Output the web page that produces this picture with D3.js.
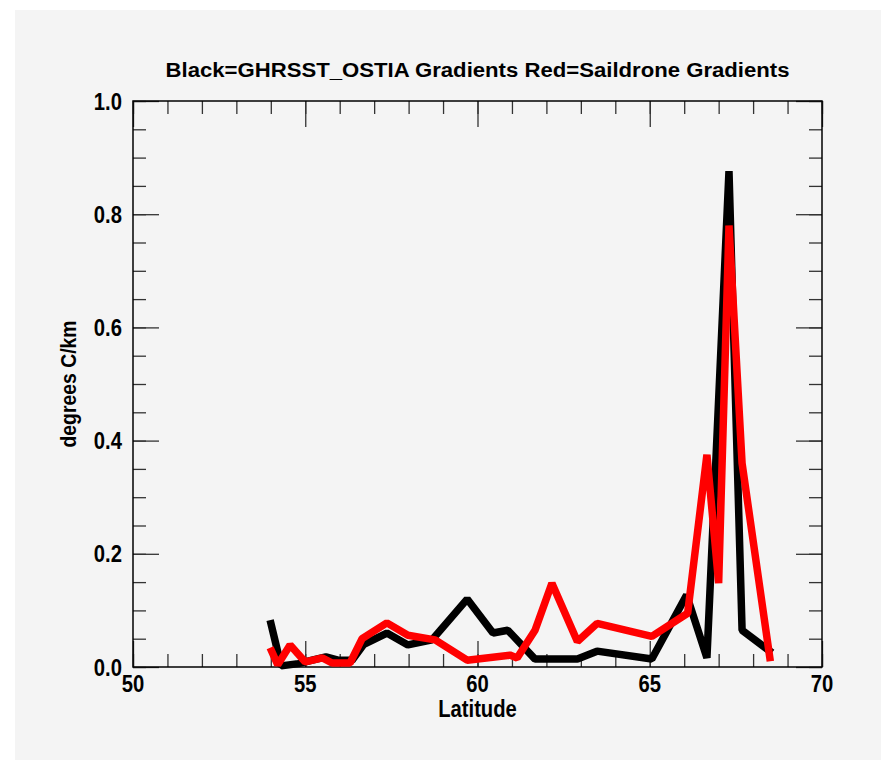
<!DOCTYPE html>
<html><head><meta charset="utf-8">
<script src="https://cdn.jsdelivr.net/npm/d3@7"></script>
<style>
html,body{margin:0;padding:0;background:#fff;}
svg{display:block;}
</style></head>
<body><script>
const titleText = "Black=GHRSST_OSTIA Gradients Red=Saildrone Gradients";
const xLabel = "Latitude";
const yLabel = "degrees C/km";
const xMajorTicks = [50, 55, 60, 65, 70];
const xMinorTicks = d3.range(50, 71, 1);
const yMajorTicks = [0, 0.2, 0.4, 0.6, 0.8, 1.0];
const yMinorTicks = d3.range(0, 1.0001, 0.05);

const blackLat = [53.98, 54.3, 54.8, 55.2, 55.6, 55.95, 56.36, 56.7, 57.37, 57.98, 58.68, 59.7, 60.45, 60.88, 61.67, 62.9, 63.47, 65.06, 66.07, 66.66, 67.3, 67.68, 68.55];
const blackVal = [0.083, 0.002, 0.006, 0.012, 0.018, 0.012, 0.012, 0.04, 0.06, 0.039, 0.048, 0.12, 0.06, 0.065, 0.014, 0.014, 0.028, 0.014, 0.127, 0.016, 0.876, 0.065, 0.025];
const redLat = [53.98, 54.2, 54.56, 55.0, 55.5, 55.78, 56.3, 56.65, 57.37, 57.98, 58.77, 59.7, 60.94, 61.15, 61.67, 62.16, 62.9, 63.47, 65.06, 66.1, 66.66, 67.0, 67.3, 67.68, 68.5];
const redVal = [0.034, 0.004, 0.039, 0.009, 0.016, 0.007, 0.007, 0.05, 0.078, 0.056, 0.048, 0.012, 0.021, 0.016, 0.065, 0.148, 0.045, 0.077, 0.054, 0.095, 0.375, 0.148, 0.78, 0.36, 0.01];

const W = 881, H = 760;
const L = 133, R = 822, T = 101, B = 667;
const font = "'Liberation Sans', Arial, Helvetica, sans-serif";

const svg = d3.select("body").append("svg").attr("width", W).attr("height", H);
svg.append("rect").attr("x", 0).attr("y", 0).attr("width", W).attr("height", H).attr("fill", "#ffffff");
svg.append("rect").attr("x", 15).attr("y", 10).attr("width", W - 15).attr("height", H - 10).attr("fill", "#f4f4f4");

const x = d3.scaleLinear().domain([50, 70]).range([L, R]);
const y = d3.scaleLinear().domain([0, 1]).range([B, T]);

const majLen = 26, minLen = 13, tickCol = "#333";

function axis(gen, tx, ty, ticks, len) {
  const g = svg.append("g").attr("transform", `translate(${tx},${ty})`)
    .call(gen.tickValues(ticks).tickSize(len).tickSizeOuter(0).tickFormat(""));
  g.select(".domain").remove();
  g.selectAll(".tick line").attr("stroke", tickCol).attr("stroke-width", 1.3);
  return g;
}
axis(d3.axisTop(x), 0, B, xMinorTicks, minLen);
axis(d3.axisTop(x), 0, B, xMajorTicks, majLen);
axis(d3.axisBottom(x), 0, T, xMinorTicks, minLen);
axis(d3.axisBottom(x), 0, T, xMajorTicks, majLen);
axis(d3.axisRight(y), L, 0, yMinorTicks, minLen);
axis(d3.axisRight(y), L, 0, yMajorTicks, majLen);
axis(d3.axisLeft(y), R, 0, yMinorTicks, minLen);
axis(d3.axisLeft(y), R, 0, yMajorTicks, majLen);

svg.append("rect").attr("x", L).attr("y", T).attr("width", R - L).attr("height", B - T)
  .attr("fill", "none").attr("stroke", "#000").attr("stroke-width", 1.5);

const sx = 0.88;
svg.selectAll("text.xl").data(xMajorTicks).enter().append("text")
  .attr("transform", d => `translate(${x(d)},${B + 25}) scale(${sx},1)`)
  .attr("text-anchor", "middle").attr("font-family", font).attr("font-weight", "bold")
  .attr("font-size", 23).attr("fill", "#000").text(d => d);
svg.selectAll("text.yl").data(yMajorTicks).enter().append("text")
  .attr("transform", d => `translate(${L - 11},${y(d) + 8.5}) scale(${sx},1)`)
  .attr("text-anchor", "end").attr("font-family", font).attr("font-weight", "bold")
  .attr("font-size", 23).attr("fill", "#000").text(d => d.toFixed(1));

const line = d3.line().x(d => x(d[0])).y(d => y(d[1]));
svg.append("path").datum(d3.zip(blackLat, blackVal)).attr("d", line)
  .attr("fill", "none").attr("stroke", "#000").attr("stroke-width", 7.5)
  .attr("stroke-linejoin", "bevel");
svg.append("path").datum(d3.zip(redLat, redVal)).attr("d", line)
  .attr("fill", "none").attr("stroke", "#ff0000").attr("stroke-width", 7.5)
  .attr("stroke-linejoin", "bevel");

svg.append("text").attr("x", (L + R) / 2).attr("y", 77).attr("text-anchor", "middle")
  .attr("font-family", font).attr("font-weight", "bold").attr("font-size", 20)
  .attr("textLength", 624).attr("lengthAdjust", "spacingAndGlyphs")
  .attr("fill", "#000").text(titleText);
svg.append("text").attr("transform", `translate(${(L + R) / 2},717) scale(${sx},1)`)
  .attr("text-anchor", "middle")
  .attr("font-family", font).attr("font-weight", "bold").attr("font-size", 23)
  .attr("fill", "#000").text(xLabel);
svg.append("text").attr("transform", `translate(76,${(T + B) / 2}) rotate(-90) scale(${sx},1)`)
  .attr("text-anchor", "middle")
  .attr("font-family", font).attr("font-weight", "bold").attr("font-size", 22)
  .attr("fill", "#000").text(yLabel);
</script></body></html>
